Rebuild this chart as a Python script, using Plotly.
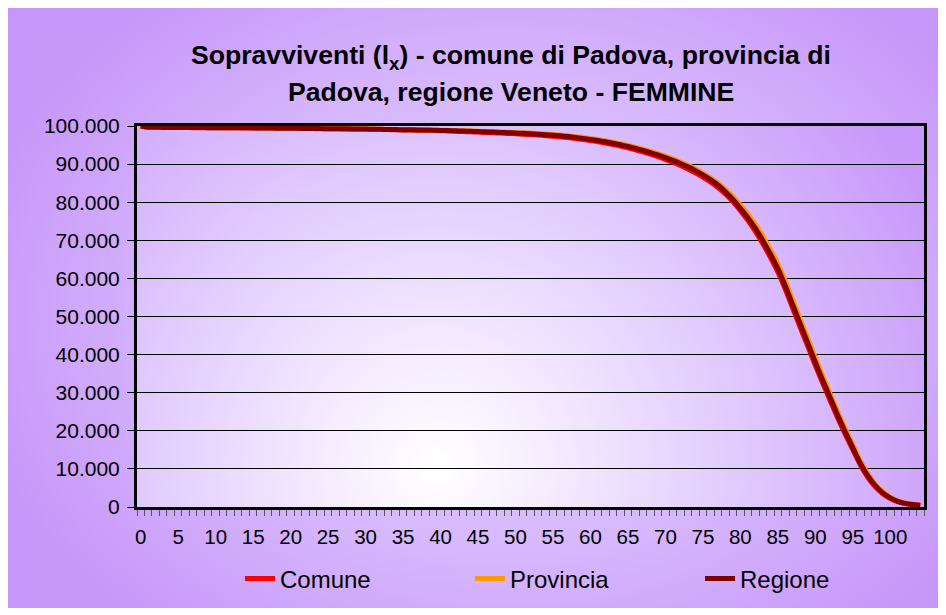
import base64
import plotly.graph_objects as go

# ---------------- data ----------------
ages = list(range(0, 105))

comune = [100000, 99660, 99630, 99610, 99600, 99590, 99580, 99570, 99560, 99550,
          99540, 99530, 99520, 99510, 99500, 99480, 99460, 99440, 99420, 99400,
          99380, 99360, 99340, 99320, 99300, 99280, 99260, 99240, 99210, 99180,
          99150, 99120, 99090, 99050, 99010, 98970, 98930, 98890, 98850, 98800,
          98750, 98690, 98620, 98550, 98480, 98400, 98320, 98230, 98140, 98050,
          97950, 97850, 97740, 97610, 97470, 97320, 97150, 96950, 96720, 96460,
          96180, 95870, 95530, 95150, 94730, 94270, 93760, 93220, 92600, 91960,
          91260, 90500, 89660, 88740, 87720, 86580, 85300, 83850, 82150, 80150,
          77800, 75250, 72350, 69100, 65550, 61700, 57150, 52100, 47100, 42150,
          37200, 32450, 27850, 23300, 19050, 15050, 11050, 7800, 5300, 3500,
          2250, 1400, 900, 600, 420]

provincia = [100000, 99700, 99670, 99650, 99640, 99630, 99620, 99610, 99600, 99590,
             99580, 99570, 99560, 99550, 99540, 99520, 99500, 99480, 99460, 99440,
             99420, 99400, 99380, 99360, 99340, 99320, 99300, 99280, 99260, 99240,
             99210, 99180, 99150, 99120, 99090, 99060, 99030, 99000, 98980, 98940,
             98900, 98860, 98810, 98760, 98700, 98640, 98580, 98510, 98440, 98370,
             98300, 98220, 98130, 98020, 97900, 97770, 97620, 97440, 97230, 97000,
             96740, 96450, 96130, 95770, 95370, 94930, 94450, 93930, 93360, 92750,
             92080, 91350, 90560, 89690, 88720, 87630, 86420, 85030, 83420, 81500,
             79320, 76900, 74170, 71050, 67600, 63850, 59250, 54250, 49250, 44200,
             39150, 34300, 29600, 24950, 20550, 16350, 12150, 8750, 6000, 4000,
             2600, 1650, 1050, 700, 480]

regione = [100000, 99680, 99650, 99630, 99620, 99610, 99600, 99590, 99580, 99570,
           99560, 99550, 99540, 99530, 99520, 99500, 99480, 99460, 99440, 99420,
           99400, 99380, 99360, 99340, 99320, 99300, 99280, 99260, 99240, 99210,
           99180, 99150, 99120, 99090, 99060, 99030, 99000, 98970, 98940, 98900,
           98850, 98800, 98740, 98680, 98620, 98550, 98480, 98400, 98320, 98240,
           98160, 98070, 97970, 97850, 97720, 97580, 97420, 97230, 97000, 96750,
           96480, 96180, 95850, 95480, 95070, 94620, 94130, 93600, 93020, 92400,
           91720, 90980, 90170, 89280, 88290, 87180, 85930, 84500, 82700, 80700,
           78400, 75900, 73100, 69900, 66400, 62600, 58000, 53000, 48000, 43000,
           38000, 33200, 28600, 24000, 19700, 15600, 11500, 8200, 5600, 3700,
           2400, 1500, 950, 650, 450]

series_names = ["Comune", "Provincia", "Regione"]
series_colors = ["#FF0000", "#FF9900", "#800000"]
x_tick_vals = list(range(0, 101, 5))
y_tick_vals = list(range(0, 100001, 10000))

title_line1 = "Sopravviventi (l<sub>x</sub>) - comune di Padova, provincia di"
title_line2 = "Padova, regione Veneto - FEMMINE"

FONT = "Liberation Sans, Arial, sans-serif"

# The page body has an 8px margin, so the figure is drawn 8px right/down.
OFF = 8


def svg_uri(svg):
    return "data:image/svg+xml;base64," + base64.b64encode(svg.encode("utf-8")).decode("ascii")


paper_svg = (
    '<svg xmlns="http://www.w3.org/2000/svg" width="933" height="601" viewBox="0 0 933 601" '
    'preserveAspectRatio="none">'
    '<defs><radialGradient id="g" gradientUnits="userSpaceOnUse" cx="500" cy="310" r="560" '
    'gradientTransform="translate(500 310) scale(1 0.75) translate(-500 -310)">'
    '<stop offset="0" stop-color="#E6D4FF"/>'
    '<stop offset="0.55" stop-color="#D7B8FD"/>'
    '<stop offset="1" stop-color="#C796F9"/>'
    '</radialGradient></defs>'
    '<rect x="0" y="0" width="933" height="601" fill="url(#g)"/></svg>'
)

plot_svg = (
    '<svg xmlns="http://www.w3.org/2000/svg" width="787" height="381" viewBox="0 0 787 381" '
    'preserveAspectRatio="none">'
    '<defs><radialGradient id="p" gradientUnits="userSpaceOnUse" cx="300" cy="340" r="560">'
    '<stop offset="0" stop-color="#FFFFFF"/>'
    '<stop offset="0.2" stop-color="#F5ECFF"/>'
    '<stop offset="0.55" stop-color="#E0C9FE"/>'
    '<stop offset="1" stop-color="#C898FA"/>'
    '</radialGradient></defs>'
    '<rect x="0" y="0" width="787" height="381" fill="url(#p)"/></svg>'
)

# target page-pixel geometry
PAGE_W, PAGE_H = 946, 615
W, H = PAGE_W - OFF, PAGE_H - OFF
plot_left, plot_right, plot_top, plot_bottom = 137, 924, 126, 507  # page pixels
L = plot_left - OFF
T = plot_top - OFF
R = W - (plot_right - OFF)
B = H - (plot_bottom - OFF)
pw, ph = W - L - R, H - T - B


def px_x(p):  # page pixel -> paper x
    return (p - OFF - L) / pw


def px_y(p):  # page pixel -> paper y
    return (H - B - (p - OFF)) / ph


fig = go.Figure()
for name, vals, col in zip(series_names, [comune, provincia, regione], series_colors):
    fig.add_trace(go.Scatter(
        x=ages, y=vals, name=name, mode="lines",
        line=dict(color=col, width=5, shape="spline", smoothing=0.6),
    ))

fig.add_layout_image(dict(
    source=svg_uri(paper_svg), xref="paper", yref="paper",
    x=px_x(7), y=px_y(7), sizex=933 / pw, sizey=601 / ph,
    xanchor="left", yanchor="top", sizing="stretch", layer="below",
))
fig.add_layout_image(dict(
    source=svg_uri(plot_svg), xref="x", yref="y",
    x=-0.5, y=100000, sizex=105, sizey=100000,
    xanchor="left", yanchor="top", sizing="stretch", layer="below",
))

fig.add_annotation(text="<b>" + title_line1 + "</b>", xref="paper", yref="paper",
                   x=px_x(511), y=px_y(57), xanchor="center", yanchor="middle",
                   showarrow=False, font=dict(family=FONT, size=26.6, color="#000000"))
fig.add_annotation(text="<b>" + title_line2 + "</b>", xref="paper", yref="paper",
                   x=px_x(511), y=px_y(92), xanchor="center", yanchor="middle",
                   showarrow=False, font=dict(family=FONT, size=26.6, color="#000000"))

fig.update_layout(
    width=W, height=H,
    margin=dict(l=L, r=R, t=T, b=B, pad=0, autoexpand=False),
    paper_bgcolor="#FFFFFF",
    plot_bgcolor="rgba(0,0,0,0)",
    separators=",.",
    font=dict(family=FONT, size=20, color="#000000"),
    showlegend=True,
    legend=dict(
        orientation="h", x=px_x(240), y=px_y(579), xanchor="left", yanchor="middle",
        font=dict(family=FONT, size=24, color="#000000"),
        bgcolor="rgba(0,0,0,0)", entrywidth=185, entrywidthmode="pixels",
        itemwidth=30, tracegroupgap=0,
    ),
)

fig.update_xaxes(
    range=[-0.5, 104.5], tickmode="array", tickvals=x_tick_vals,
    ticktext=[str(v) for v in x_tick_vals],
    ticks="outside", ticklen=9, tickcolor="rgba(0,0,0,0)",
    showgrid=False, zeroline=False, automargin=False,
    showline=True, linecolor="#000000", linewidth=3, mirror=True,
    tickfont=dict(family=FONT, size=20.5, color="#000000"),
    minor=dict(tickmode="linear", tick0=-0.5, dtick=1, ticks="outside",
               ticklen=6, tickwidth=1, tickcolor="#555555", showgrid=False),
)
fig.update_yaxes(
    range=[0, 100000], tickmode="array", tickvals=y_tick_vals,
    tickformat=",d", automargin=False,
    ticks="outside", ticklen=7, tickcolor="#000000", tickwidth=1,
    ticklabelstandoff=3,
    showgrid=True, gridcolor="#000000", gridwidth=1.2, zeroline=False,
    showline=True, linecolor="#000000", linewidth=3, mirror=True,
    tickfont=dict(family=FONT, size=21, color="#000000"),
)

fig.write_html("out.html")
